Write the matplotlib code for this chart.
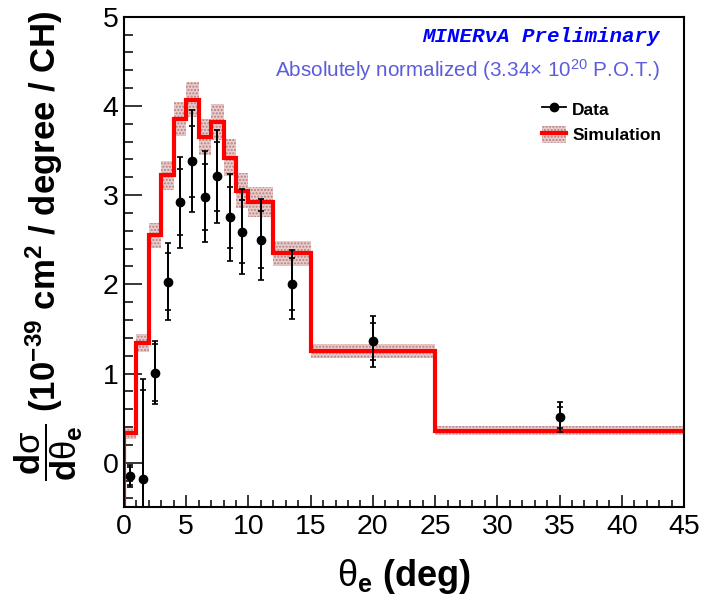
import matplotlib
matplotlib.use("Agg")
import matplotlib.pyplot as plt
from matplotlib.lines import Line2D
from matplotlib.patches import Patch
from matplotlib.ticker import MultipleLocator
import numpy as np

# ---------------- data ----------------
bin_edges = [0, 1, 2, 3, 4, 5, 6, 7, 8, 9, 10, 12, 15, 25, 45]
sim_values = [0.33, 1.34, 2.55, 3.22, 3.85, 4.07, 3.65, 3.82, 3.42, 3.05, 2.92, 2.35, 1.25, 0.36]
sim_err = [0.06, 0.10, 0.14, 0.16, 0.19, 0.20, 0.20, 0.20, 0.21, 0.20, 0.17, 0.14, 0.08, 0.05]

data_x = [0.5, 1.5, 2.5, 3.5, 4.5, 5.5, 6.5, 7.5, 8.5, 9.5, 11, 13.5, 20, 35]
data_y = [-0.15, -0.18, 1.01, 2.03, 2.92, 3.38, 2.98, 3.21, 2.75, 2.59, 2.50, 2.00, 1.36, 0.51]
data_tot_err = [0.12, 1.12, 0.355, 0.43, 0.51, 0.575, 0.51, 0.525, 0.49, 0.48, 0.455, 0.39, 0.285, 0.165]
data_stat_err = [0.10, 1.00, 0.32, 0.32, 0.37, 0.40, 0.37, 0.39, 0.34, 0.35, 0.32, 0.29, 0.205, 0.12]

x_ticks = [0, 5, 10, 15, 20, 25, 30, 35, 40, 45]
y_ticks = [0, 1, 2, 3, 4, 5]

# ---------------- style ----------------
plt.rcParams['font.family'] = ['Liberation Sans', 'DejaVu Sans']
plt.rcParams['mathtext.fontset'] = 'custom'
plt.rcParams['mathtext.rm'] = 'Liberation Sans'
plt.rcParams['mathtext.it'] = 'Liberation Sans:italic'
plt.rcParams['mathtext.bf'] = 'Liberation Sans:bold'
plt.rcParams['hatch.linewidth'] = 1.0

BAND_FACE = '#e8cccc'
BAND_HATCH = '#b87f7f'

W, H = 701, 602
fig = plt.figure(figsize=(W / 100, H / 100), dpi=100)
ax = fig.add_axes([124 / W, 1 - 507.3 / H, 560 / W, (507.3 - 16.7) / H])

edges = np.array(bin_edges, dtype=float)
sim = np.array(sim_values)
serr = np.array(sim_err)

# simulation error band
ax.stairs(sim + serr, edges, baseline=sim - serr, fill=True,
          facecolor=BAND_FACE, edgecolor=BAND_HATCH, hatch='.....',
          linewidth=0, zorder=1)
# simulation line
ax.stairs(sim, edges, baseline=None, color='red', linewidth=3.0, zorder=2)
ax.vlines(edges[0], -1.0, sim[0], color='red', linewidth=3.0, zorder=2)

# data: total and statistical error bars
ax.errorbar(data_x, data_y, yerr=data_tot_err, fmt='none', ecolor='black',
            elinewidth=1.4, capsize=2.2, capthick=1.2, zorder=3)
ax.errorbar(data_x, data_y, yerr=data_stat_err, fmt='o', color='black',
            ecolor='black', elinewidth=1.4, capsize=2.2, capthick=1.2,
            markersize=6, zorder=4)

ax.set_xlim(0, 45)
ax.set_ylim(-0.5, 5)
ax.set_xticks(x_ticks)
ax.set_yticks(y_ticks)
ax.xaxis.set_minor_locator(MultipleLocator(1))
ax.yaxis.set_minor_locator(MultipleLocator(0.2))

ax.tick_params(axis='both', which='both', direction='in', top=False, right=False,
               width=1.1, labelsize=20.5)
ax.tick_params(axis='y', which='major', length=13, pad=4)
ax.tick_params(axis='y', which='minor', length=6.5)
ax.tick_params(axis='x', which='major', length=9, pad=5)
ax.tick_params(axis='x', which='minor', length=4.8)
for sp in ax.spines.values():
    sp.set_linewidth(1.5)
    sp.set_zorder(5)

# axis titles
fig.text(404 / W, 1 - 577 / H, r'$\mathrm{\theta}_{\mathbf{e}}$ (deg)',
         ha='center', va='center', fontsize=26, fontweight='bold')
fig.text(49 / W, 1 - 10 / H,
         r'$\dfrac{\mathbf{d}\mathrm{\sigma}}{\mathbf{d}\mathrm{\theta}_{\mathbf{e}}}$'
         r' (10$^{\mathbf{-39}}$ cm$^{\mathbf{2}}$ / degree / CH)',
         rotation=90, ha='center', va='top', fontsize=25, fontweight='bold')

# annotations
fig.text(660 / W, 1 - 41.7 / H, 'MINERνA Preliminary', ha='right', va='baseline',
         fontsize=15, fontweight='bold', fontstyle='italic', color='blue',
         family=['Liberation Mono', 'DejaVu Sans Mono'])
fig.text(660 / W, 1 - 76.7 / H,
         r'Absolutely normalized (3.34$\times$ 10$^{20}$ P.O.T.)',
         ha='right', va='baseline', fontsize=14.9, color='#5c5cdc')

# legend
h_data = Line2D([], [], color='black', marker='o', markersize=6, linewidth=1.3)
h_band = Patch(facecolor=BAND_FACE, edgecolor=BAND_HATCH, hatch='.....', linewidth=0)
h_line = Line2D([], [], color='red', linewidth=3.0)
ax.legend([h_data, (h_band, h_line)], ['Data', 'Simulation'],
          loc='upper left', bbox_to_anchor=(541.7 / W, 1 - 100 / H),
          bbox_transform=fig.transFigure, frameon=False,
          prop={'weight': 'bold', 'size': 12.5}, handlelength=1.4,
          handleheight=1.2, handletextpad=0.35, labelspacing=0.45,
          borderpad=0, borderaxespad=0)

fig.savefig('out.png', dpi=100)
